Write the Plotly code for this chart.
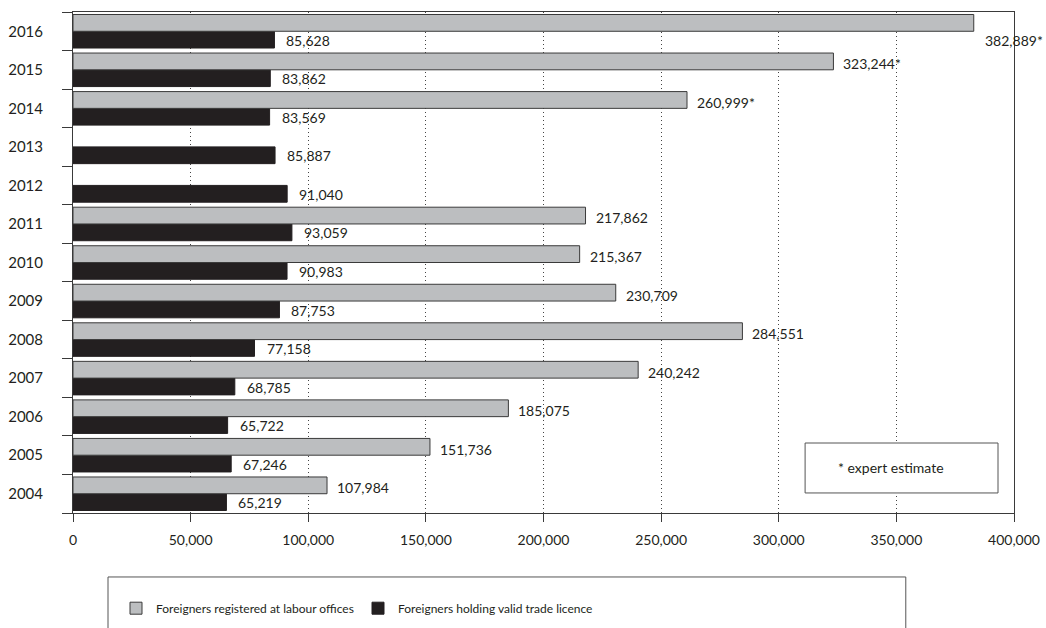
import plotly.graph_objects as go

years = ["2004", "2005", "2006", "2007", "2008", "2009", "2010", "2011",
         "2012", "2013", "2014", "2015", "2016"]
registered = [107984, 151736, 185075, 240242, 284551, 230709, 215367, 217862,
              None, None, 260999, 323244, 382889]
registered_estimate = [False, False, False, False, False, False, False, False,
                       False, False, True, True, True]
trade_licence = [65219, 67246, 65722, 68785, 77158, 87753, 90983, 93059,
                 91040, 85887, 83569, 83862, 85628]
x_ticks = [0, 50000, 100000, 150000, 200000, 250000, 300000, 350000, 400000]

FONT = "Lato"
TXT = "#231f20"
X_MAX = 400000

fig = go.Figure()
fig.add_trace(go.Bar(
    y=years, x=trade_licence, orientation="h",
    name="Foreigners holding valid trade licence",
    marker=dict(color="#231f20", line=dict(color="#231f20", width=1)),
    legendrank=2,
))
fig.add_trace(go.Bar(
    y=years, x=registered, orientation="h",
    name="Foreigners registered at labour offices",
    marker=dict(color="#bcbec0", line=dict(color="#3a3a3a", width=1)),
    legendrank=1,
))

annotations = []
for i, (v, est) in enumerate(zip(registered, registered_estimate)):
    if v is None:
        continue
    txt = f"{v:,}" + ("*" if est else "")
    if v > 0.95 * X_MAX:
        annotations.append(dict(x=v, y=i, text=txt, showarrow=False,
                                xanchor="left", yanchor="middle",
                                xshift=9, yshift=-9,
                                font=dict(family=FONT, size=14, color=TXT)))
    else:
        annotations.append(dict(x=v, y=i, text=txt, showarrow=False,
                                xanchor="left", yanchor="middle",
                                xshift=8, yshift=6,
                                font=dict(family=FONT, size=14, color=TXT)))
for i, v in enumerate(trade_licence):
    annotations.append(dict(x=v, y=i, text=f"{v:,}", showarrow=False,
                            xanchor="left", yanchor="middle",
                            xshift=10, yshift=-9,
                            font=dict(family=FONT, size=14, color=TXT)))

annotations.append(dict(x=0.869, y=0.09, xref="paper", yref="paper",
                        text="* expert estimate", showarrow=False,
                        xanchor="center", yanchor="middle",
                        font=dict(family=FONT, size=14, color=TXT)))

shapes = [
    dict(type="rect", xref="paper", yref="paper",
         x0=0.778, x1=0.983, y0=0.04, y1=0.1397,
         line=dict(color="#555555", width=1), fillcolor="white"),
    dict(type="rect", xref="paper", yref="paper",
         x0=0.0372, x1=0.885, y0=-0.2535, y1=-0.1277,
         line=dict(color="#555555", width=1), fillcolor="rgba(0,0,0,0)"),
]

fig.update_layout(
    width=1046, height=628,
    margin=dict(l=73, r=32, t=12, b=115, autoexpand=False),
    paper_bgcolor="white", plot_bgcolor="white",
    barmode="group", bargap=0.13, bargroupgap=0,
    font=dict(family=FONT, size=14, color=TXT),
    showlegend=True,
    legend=dict(orientation="h", x=0.0457, y=-0.19, xanchor="left",
                yanchor="middle", entrywidth=197, traceorder="normal",
                font=dict(family=FONT, size=12, color=TXT),
                bgcolor="rgba(0,0,0,0)"),
    annotations=annotations,
    shapes=shapes,
    xaxis=dict(range=[0, X_MAX], tickvals=x_ticks,
               ticktext=[f"{t:,}" for t in x_ticks],
               showgrid=True, gridcolor="#444444", griddash="1px,3px", gridwidth=1,
               showline=True, linecolor="#3a3a3a", linewidth=1, mirror=True,
               ticks="outside", ticklen=8, tickcolor="#3a3a3a",
               ticklabelstandoff=6,
               zeroline=False, fixedrange=True, automargin=False),
    yaxis=dict(type="category", categoryorder="array", categoryarray=years,
               range=[-0.5, len(years) - 0.5],
               showline=True, linecolor="#3a3a3a", linewidth=1, mirror=True,
               ticks="outside", ticklen=10, tickcolor="#3a3a3a",
               tickson="boundaries", showgrid=False, zeroline=False,
               ticklabelstandoff=26, tickfont=dict(size=15),
               fixedrange=True, automargin=False),
)

fig.write_html("out.html", config={"displayModeBar": False},
               post_script="document.body.style.margin='0px';")
